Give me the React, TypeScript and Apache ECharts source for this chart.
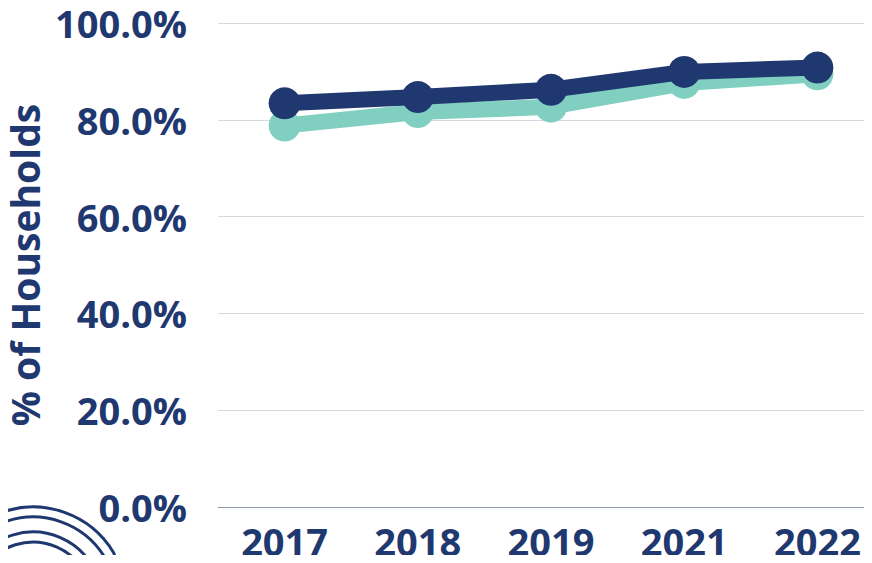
import React, { useEffect, useRef } from "react";
import * as echarts from "echarts";

const years = ["2017", "2018", "2019", "2021", "2022"];
const tealValues = [78.8, 81.6, 82.7, 87.6, 89.4];
const navyValues = [83.4, 84.7, 86.2, 89.9, 90.8];
const yTicks = { min: 0, max: 100, interval: 20 };

const NAVY = "#1f386f";
const TEAL = "#80cfc1";
const FONT = "'Open Sans', 'Noto Sans', sans-serif";

export default function App() {
  const ref = useRef<HTMLDivElement>(null);
  useEffect(() => {
    if (!ref.current) return;
    const chart = echarts.init(ref.current, null, { renderer: "svg" });
    const cx = 33;
    const cy = 601;
    chart.setOption({
      animation: false,
      backgroundColor: "#ffffff",
      grid: {
        left: 218,
        top: 23,
        width: 666,
        height: 484,
        containLabel: false,
        outerBoundsMode: "none",
      },
      xAxis: {
        type: "category",
        data: years,
        boundaryGap: true,
        axisLine: { show: true, lineStyle: { color: "#8d97b0", width: 1 } },
        axisTick: { show: false },
        axisLabel: {
          color: NAVY,
          fontFamily: FONT,
          fontWeight: 700,
          fontSize: 38,
          lineHeight: 38,
          margin: 15,
        },
        splitLine: { show: false },
      },
      yAxis: {
        type: "value",
        min: yTicks.min,
        max: yTicks.max,
        interval: yTicks.interval,
        name: "% of Households",
        nameLocation: "middle",
        nameRotate: 90,
        nameGap: 173,
        nameTextStyle: {
          color: NAVY,
          fontFamily: FONT,
          fontWeight: 700,
          fontSize: 39,
        },
        axisLine: { show: false },
        axisTick: { show: false },
        axisLabel: {
          color: NAVY,
          fontFamily: FONT,
          fontWeight: 700,
          fontSize: 38,
          lineHeight: 38,
          margin: 31,
          formatter: (v: number) => v.toFixed(1) + "%",
        },
        splitLine: { lineStyle: { color: "#d6d9e1", width: 1 } },
      },
      series: [
        {
          name: "Series A",
          type: "line",
          data: tealValues,
          symbol: "circle",
          symbolSize: 32,
          lineStyle: { color: TEAL, width: 16 },
          itemStyle: { color: TEAL },
          z: 2,
        },
        {
          name: "Series B",
          type: "line",
          data: navyValues,
          symbol: "circle",
          symbolSize: 32,
          lineStyle: { color: NAVY, width: 16 },
          itemStyle: { color: NAVY },
          z: 3,
        },
      ],
      graphic: [
        { type: "rect", shape: { x: 240, y: -23, width: 48, height: 30 }, style: { fill: TEAL } },
        { type: "rect", shape: { x: 531, y: -23, width: 48, height: 30 }, style: { fill: NAVY } },
        {
          type: "arc",
          shape: { cx, cy, r: 89, startAngle: Math.PI * 0.95, endAngle: Math.PI * 2 - 0.54, clockwise: true },
          style: { stroke: NAVY, lineWidth: 13, fill: "none", lineCap: "round" },
          z: 1,
        },
        {
          type: "arc",
          shape: { cx, cy, r: 89, startAngle: Math.PI * 0.95, endAngle: Math.PI * 2 - 0.54, clockwise: true },
          style: { stroke: "#ffffff", lineWidth: 7, fill: "none", lineCap: "round" },
          z: 2,
        },
        {
          type: "arc",
          shape: { cx, cy, r: 64, startAngle: Math.PI * 0.95, endAngle: Math.PI * 2 - 0.45, clockwise: true },
          style: { stroke: NAVY, lineWidth: 13, fill: "none", lineCap: "round" },
          z: 1,
        },
        {
          type: "arc",
          shape: { cx, cy, r: 64, startAngle: Math.PI * 0.95, endAngle: Math.PI * 2 - 0.45, clockwise: true },
          style: { stroke: "#ffffff", lineWidth: 7, fill: "none", lineCap: "round" },
          z: 2,
        },
        {
          type: "circle",
          shape: { cx, cy, r: 41 },
          style: { fill: NAVY },
          z: 1,
        },
      ],
    });
    return () => chart.dispose();
  }, []);
  return <div ref={ref} style={{ width: 872, height: 563, margin: -8 }} />;
}
